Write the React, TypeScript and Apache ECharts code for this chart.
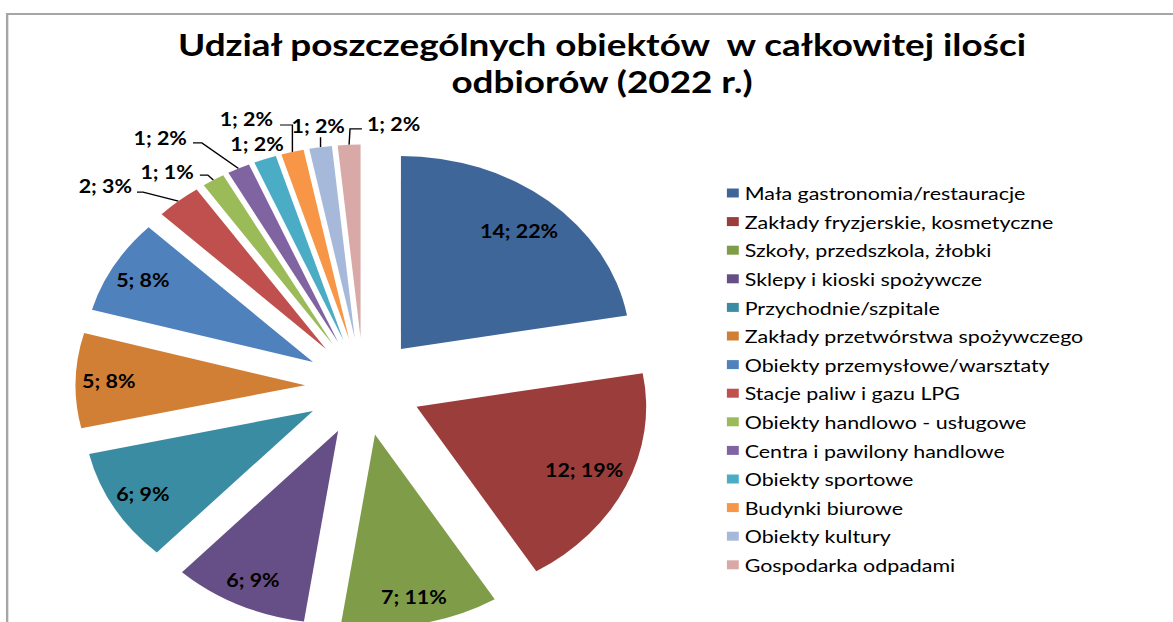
import React, { useEffect, useRef } from 'react';
import * as echarts from 'echarts';

const titleText = 'Udział poszczególnych obiektów  w całkowitej ilości\nodbiorów (2022 r.)';

const categories = [
  'Mała gastronomia/restauracje',
  'Zakłady fryzjerskie, kosmetyczne',
  'Szkoły, przedszkola, żłobki',
  'Sklepy i kioski spożywcze',
  'Przychodnie/szpitale',
  'Zakłady przetwórstwa spożywczego',
  'Obiekty przemysłowe/warsztaty',
  'Stacje paliw i gazu LPG',
  'Obiekty handlowo - usługowe',
  'Centra i pawilony handlowe',
  'Obiekty sportowe',
  'Budynki biurowe',
  'Obiekty kultury',
  'Gospodarka odpadami',
];

const values = [14, 12, 7, 6, 6, 5, 5, 2, 1, 1, 1, 1, 1, 1];
const percentLabels = [22, 19, 11, 9, 9, 8, 8, 3, 1, 2, 2, 2, 2, 2];

const colors = [
  '#3F6698', '#9B3D3B', '#7F9C48', '#664F86', '#3A8CA3', '#D07F35',
  '#4F81BD', '#C0504D', '#9BBB59', '#8064A2', '#4BACC6', '#F79646',
  '#A7B9DA', '#D9A9A8',
];

// outside-label placement for the small slices, relative to each slice's outer tip
// (leader-line bend points, label anchor offset and alignment)
const outsideLabelCfg = [
  { idx: 7, line: [[-29.7, -9], [-34.8, -9]], lx: -39, ly: -15, align: 'right' },
  { idx: 8, line: [[-4.6, -4.8], [-11.3, -4.8]], lx: -16.4, ly: -7.8, align: 'right' },
  { idx: 9, line: [[-30.8, -25.5], [-38.3, -25.5]], lx: -43.4, ly: -31, align: 'right' },
  { idx: 10, line: [], lx: -6.7, ly: -15, align: 'center' },
  { idx: 11, line: [[0, -27], [-10.4, -27]], lx: -16.3, ly: -33, align: 'right' },
  { idx: 12, line: [[0, -10]], lx: -2, ly: -21, align: 'center' },
  { idx: 13, line: [[0.8, -16], [10.8, -16]], lx: 15, ly: -21, align: 'left' },
];

const W = 986;
const H = 622;
const STRETCH = 1173 / W;
const FONT = 'Lato, "Open Sans", sans-serif';

export default function App() {
  const ref = useRef<HTMLDivElement>(null);

  useEffect(() => {
    if (!ref.current) return;
    const chart = echarts.init(ref.current, null, { renderer: 'svg', width: W, height: H });

    const center = [305.5, 386.5];
    const R = 193;
    const offset = 49;
    const labelText = (p: any) => `${values[p.dataIndex]}; ${percentLabels[p.dataIndex]}%`;
    const labelStyle = { fontFamily: FONT, fontSize: 18, fontWeight: 'bold' as const, color: '#000' };

    const baseSeries = {
      type: 'pie' as const,
      center,
      startAngle: 90,
      clockwise: true,
      animation: false,
      emphasis: { disabled: true },
    };

    const dataWith = (show: (i: number) => boolean, selected: boolean) =>
      categories.map((name, i) => ({
        name,
        value: values[i],
        selected,
        label: { show: show(i) },
        labelLine: { show: show(i) },
      }));

    const overlay = {
      ...baseSeries,
      silent: true,
      legendHoverLink: false,
      itemStyle: { color: 'rgba(0,0,0,0)' },
    };

    const exploded = { selectedMode: 'multiple' as const, selectedOffset: offset };

    chart.setOption({
      animation: false,
      color: colors,
      backgroundColor: '#fff',
      title: {
        text: titleText,
        left: 501,
        top: 20,
        textAlign: 'center',
        textStyle: { fontFamily: FONT, fontSize: 31, fontWeight: 'bold', color: '#000', lineHeight: 37 },
      },
      graphic: [
        {
          type: 'rect',
          shape: { x: 6, y: 14, width: 2000, height: 1000 },
          style: { fill: 'none', stroke: '#a6a6a6', lineWidth: 2 },
          silent: true,
        },
      ],
      legend: {
        orient: 'vertical',
        left: 606,
        top: 178,
        icon: 'rect',
        itemWidth: 10,
        itemHeight: 9,
        itemGap: 8.6,
        data: categories,
        textStyle: { fontFamily: FONT, fontSize: 18, color: '#000', lineHeight: 20 },
      },
      series: [
        {
          ...baseSeries,
          ...exploded,
          name: 'slices',
          radius: R,
          data: dataWith(() => false, true),
          itemStyle: { borderWidth: 0 },
        },
        {
          ...overlay,
          ...exploded,
          name: 'labels',
          radius: [R * 0.68, R],
          data: dataWith((i) => i >= 2 && i < 7, true),
          label: { position: 'inside', formatter: labelText, ...labelStyle },
        },
        {
          ...overlay,
          ...exploded,
          name: 'labels-big',
          radius: [R * 0.57, R],
          data: dataWith((i) => i < 2, true),
          label: { position: 'inside', formatter: labelText, ...labelStyle },
        },
        {
          // outer ring at the exploded tips: anchors the small slices' leader lines
          ...overlay,
          name: 'labels-outside',
          radius: R + offset,
          data: dataWith((i) => i >= 7, false),
          label: { position: 'outside', formatter: labelText, ...labelStyle },
          labelLine: { length: 10, length2: 10, lineStyle: { color: '#000', width: 1.2 } },
          labelLayout: (params: any) => {
            const cfg = outsideLabelCfg.find((c) => c.idx === params.dataIndex);
            const pts = params.labelLinePoints;
            if (!cfg || !pts) return {};
            const p0 = [pts[0][0], pts[0][1]];
            const abs = cfg.line.map(([dx, dy]) => [p0[0] + dx, p0[1] + dy]);
            while (abs.length < 2) abs.push(abs.length ? abs[abs.length - 1] : [p0[0], p0[1]]);
            return {
              x: p0[0] + cfg.lx,
              y: p0[1] + cfg.ly,
              align: cfg.align,
              verticalAlign: 'middle',
              labelLinePoints: [p0, ...abs],
            };
          },
        },
      ],
    });

    return () => chart.dispose();
  }, []);

  return (
    <div
      ref={ref}
      style={{
        position: 'fixed',
        left: 0,
        top: 0,
        width: W,
        height: H,
        transform: `scaleX(${STRETCH})`,
        transformOrigin: '0 0',
        background: '#fff',
      }}
    />
  );
}
